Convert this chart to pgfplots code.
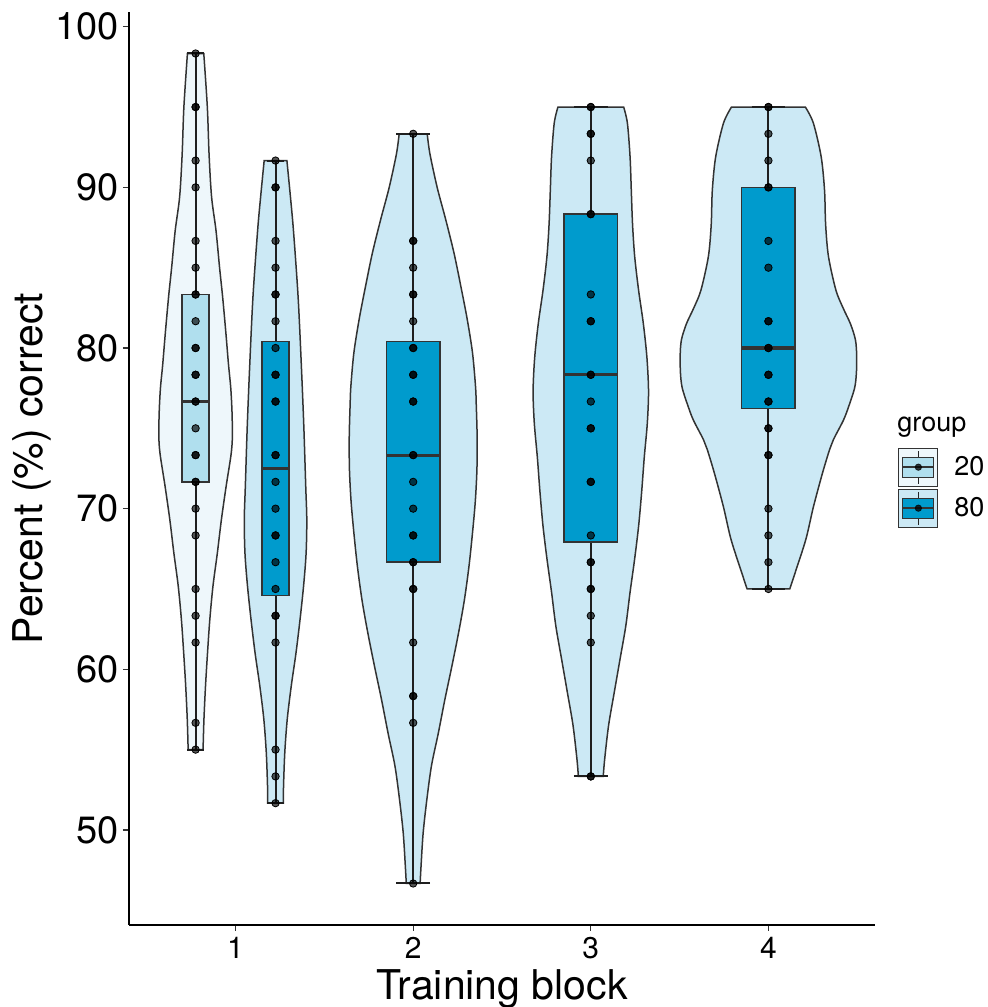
\documentclass[border=0pt]{standalone}
\usepackage{fontspec}
\setmainfont{TeX Gyre Heros}
\usepackage{pgfplots}
\pgfplotsset{compat=1.18}
\usepackage{pgfplotstable}
\usepgfplotslibrary{fillbetween,statistics}

\definecolor{vioA}{RGB}{238,247,251}
\definecolor{vioB}{RGB}{204,233,245}
\definecolor{boxA}{RGB}{176,223,238}
\definecolor{boxB}{RGB}{0,155,205}
\definecolor{edgegray}{RGB}{51,51,51}

% violin outlines: half-width w (in x units) at each y
\pgfplotstableread{
y w
55.00 0.042
56.90 0.047
59.00 0.056
61.00 0.067
63.10 0.080
65.20 0.098
67.20 0.122
69.30 0.145
71.40 0.172
73.40 0.200
74.50 0.207
76.00 0.205
77.50 0.198
79.00 0.185
81.00 0.170
83.20 0.152
85.00 0.135
87.30 0.115
89.40 0.090
92.00 0.076
95.00 0.066
98.33 0.046
}\vioOneA

\pgfplotstableread{
y w
51.67 0.044
52.70 0.045
54.80 0.052
56.90 0.066
59.00 0.089
61.00 0.115
63.10 0.138
65.20 0.158
67.20 0.172
69.30 0.176
71.40 0.170
75.20 0.159
79.00 0.145
83.20 0.127
87.30 0.101
89.40 0.084
91.67 0.064
}\vioOneB

\pgfplotstableread{
y w
46.67 0.039
47.70 0.044
49.80 0.056
51.90 0.077
54.00 0.103
56.00 0.141
58.10 0.178
60.20 0.218
62.30 0.256
64.30 0.288
66.40 0.314
68.50 0.334
70.50 0.350
72.50 0.359
74.50 0.360
76.50 0.355
77.60 0.351
79.70 0.334
81.80 0.304
83.80 0.269
85.90 0.230
88.00 0.183
90.00 0.135
92.10 0.094
93.33 0.079
}\vioTwo

\pgfplotstableread{
y w
53.33 0.070
54.40 0.078
56.50 0.100
58.50 0.131
60.60 0.164
62.70 0.197
64.80 0.221
66.80 0.246
68.90 0.269
71.00 0.286
73.20 0.301
75.30 0.318
77.30 0.325
79.40 0.316
81.50 0.296
83.60 0.269
85.70 0.247
87.70 0.235
89.80 0.228
91.90 0.221
94.00 0.206
95.00 0.185
}\vioThree

\pgfplotstableread{
y w
65.00 0.120
66.00 0.150
68.10 0.211
70.10 0.253
72.20 0.304
73.70 0.345
74.30 0.366
75.50 0.422
76.30 0.450
77.50 0.485
78.40 0.495
79.50 0.497
80.50 0.490
81.50 0.462
82.50 0.420
83.60 0.380
85.70 0.338
87.70 0.322
89.80 0.316
91.90 0.297
94.00 0.253
95.00 0.208
}\vioFour

% individual scores (percent correct)
\pgfplotstableread{
y
98.333
95
95
91.667
90
86.667
85
83.333
83.333
81.667
80
80
78.333
78.333
76.667
76.667
75
73.333
73.333
71.667
71.667
70
68.333
65
63.333
61.667
56.667
55
}\ptsOneA

\pgfplotstableread{
y
91.667
90
90
86.667
85
83.333
83.333
81.667
80
78.333
78.333
76.667
76.667
73.333
73.333
71.667
70
68.333
68.333
66.667
65
63.333
63.333
61.667
55
53.333
51.667
}\ptsOneB

\pgfplotstableread{
y
93.333
86.667
86.667
85
83.333
83.333
81.667
80
80
78.333
78.333
76.667
76.667
73.333
73.333
71.667
70
68.333
68.333
66.667
66.667
65
65
61.667
58.333
58.333
56.667
46.667
}\ptsTwo

\pgfplotstableread{
y
95
95
93.333
93.333
91.667
88.333
88.333
83.333
81.667
81.667
78.333
78.333
76.667
75
75
71.667
71.667
68.333
66.667
66.667
65
65
63.333
61.667
53.333
53.333
}\ptsThree

\pgfplotstableread{
y
95
95
93.333
91.667
90
90
86.667
85
81.667
81.667
80
80
78.333
78.333
76.667
76.667
75
75
73.333
73.333
70
68.333
66.667
65
}\ptsFour

\pgfplotsset{
  vside/.style={draw=none, smooth, tension=0.5, forget plot},
  vfill/.style={fill=#1, draw=edgegray, line width=0.75pt, forget plot},
  pts/.style={only marks, mark=*, mark size=1.85pt, forget plot,
    mark options={draw=none, fill=black, fill opacity=0.66}},
  bx/.style={fill=#1, draw=edgegray, line width=0.7pt, forget plot,
    boxplot/draw direction=y,
    boxplot/every whisker/.style={draw=black!88, line width=1pt},
    boxplot/every median/.style={draw=edgegray, line width=1.6pt}},
}

\begin{document}
\begin{tikzpicture}
\begin{axis}[
  set layers,
  at={(0,0)}, anchor=south west,
  scale only axis, width=373pt, height=456.5pt,
  xmin=0.4, xmax=4.6, ymin=44.083, ymax=100.917,
  clip=false,
  axis x line*=bottom, axis y line*=left,
  axis line style={draw=black, line width=0.6pt},
  xtick={1,2,3,4}, ytick={50,60,70,80,90,100},
  tick align=outside, major tick length=3pt,
  tick style={draw=edgegray, line width=0.6pt},
  minor tick num=0,
  /pgf/number format/assume math mode=true,
  yticklabel style={font=\fontsize{19}{19}\selectfont, inner sep=0pt, anchor=east, xshift=-2pt},
  xticklabel style={font=\fontsize{15}{15}\selectfont, inner sep=0pt, anchor=north, yshift=-3pt},
  xlabel={Training block}, ylabel={Percent (\%) correct},
  xlabel style={font=\fontsize{20.5}{20.5}\selectfont, at={(axis description cs:0.5,-0.0815)}, anchor=base},
  ylabel style={font=\fontsize{20.5}{20.5}\selectfont, at={(axis description cs:-0.1158,0.5)}, anchor=base},
  legend style={at={(axis description cs:1.0308,0.479)}, anchor=west,
    draw=none, fill=none, inner sep=0pt, row sep=1pt,
    font=\fontsize{13.5}{13.5}\selectfont,
    nodes={inner sep=1pt}, column sep=7pt},
  legend cell align=left,
]

% legend keys
\addlegendimage{legend image code/.code={
  \draw[draw=edgegray, line width=0.5pt, fill=vioA] (0pt,-9.5pt) rectangle (19.5pt,9.5pt);
  \draw[draw=black!85, line width=0.6pt] (9.75pt,-8.2pt) -- (9.75pt,8.2pt);
  \draw[draw=edgegray, line width=0.6pt, fill=boxA] (2pt,-5pt) rectangle (17.5pt,5pt);
  \draw[draw=edgegray, line width=0.9pt] (2pt,0pt) -- (17.5pt,0pt);
  \fill[fill=black, opacity=0.75] (9.75pt,0pt) circle (1.6pt);
}}
\addlegendentry{20}
\addlegendimage{legend image code/.code={
  \draw[draw=edgegray, line width=0.5pt, fill=vioB] (0pt,-9.5pt) rectangle (19.5pt,9.5pt);
  \draw[draw=black!85, line width=0.6pt] (9.75pt,-8.2pt) -- (9.75pt,8.2pt);
  \draw[draw=edgegray, line width=0.6pt, fill=boxB] (2pt,-5pt) rectangle (17.5pt,5pt);
  \draw[draw=edgegray, line width=0.9pt] (2pt,0pt) -- (17.5pt,0pt);
  \fill[fill=black, opacity=0.75] (9.75pt,0pt) circle (1.6pt);
}}
\addlegendentry{80}

% violins
\addplot[vside, name path=r1a] table[x expr=0.775+\thisrow{w}, y=y]{\vioOneA};
\addplot[vside, name path=l1a] table[x expr=0.775-\thisrow{w}, y=y]{\vioOneA};
\addplot[vfill=vioA] fill between[of=r1a and l1a, reverse=true];

\addplot[vside, name path=r1b] table[x expr=1.225+\thisrow{w}, y=y]{\vioOneB};
\addplot[vside, name path=l1b] table[x expr=1.225-\thisrow{w}, y=y]{\vioOneB};
\addplot[vfill=vioB] fill between[of=r1b and l1b, reverse=true];

\addplot[vside, name path=r2] table[x expr=2+\thisrow{w}, y=y]{\vioTwo};
\addplot[vside, name path=l2] table[x expr=2-\thisrow{w}, y=y]{\vioTwo};
\addplot[vfill=vioB] fill between[of=r2 and l2, reverse=true];

\addplot[vside, name path=r3] table[x expr=3+\thisrow{w}, y=y]{\vioThree};
\addplot[vside, name path=l3] table[x expr=3-\thisrow{w}, y=y]{\vioThree};
\addplot[vfill=vioB] fill between[of=r3 and l3, reverse=true];

\addplot[vside, name path=r4] table[x expr=4+\thisrow{w}, y=y]{\vioFour};
\addplot[vside, name path=l4] table[x expr=4-\thisrow{w}, y=y]{\vioFour};
\addplot[vfill=vioB] fill between[of=r4 and l4, reverse=true];

% boxes
\addplot[bx=boxA, boxplot prepared={draw position=0.775, lower whisker=55, lower quartile=71.667,
  median=76.667, upper quartile=83.333, upper whisker=98.333, box extend=0.152, whisker extend=0.096}] coordinates {};
\addplot[bx=boxB, boxplot prepared={draw position=1.225, lower whisker=51.667, lower quartile=64.6,
  median=72.5, upper quartile=80.42, upper whisker=91.667, box extend=0.152, whisker extend=0.096}] coordinates {};
\addplot[bx=boxB, boxplot prepared={draw position=2, lower whisker=46.667, lower quartile=66.667,
  median=73.333, upper quartile=80.42, upper whisker=93.333, box extend=0.3, whisker extend=0.19}] coordinates {};
\addplot[bx=boxB, boxplot prepared={draw position=3, lower whisker=53.333, lower quartile=67.92,
  median=78.333, upper quartile=88.333, upper whisker=95, box extend=0.3, whisker extend=0.19}] coordinates {};
\addplot[bx=boxB, boxplot prepared={draw position=4, lower whisker=65, lower quartile=76.25,
  median=80, upper quartile=90, upper whisker=95, box extend=0.3, whisker extend=0.19}] coordinates {};

% points
\addplot[pts] table[x expr=0.775, y=y]{\ptsOneA};
\addplot[pts] table[x expr=1.225, y=y]{\ptsOneB};
\addplot[pts] table[x expr=2, y=y]{\ptsTwo};
\addplot[pts] table[x expr=3, y=y]{\ptsThree};
\addplot[pts] table[x expr=4, y=y]{\ptsFour};

\node[anchor=base west, inner sep=0pt, font=\fontsize{13.5}{13.5}\selectfont]
  at (axis description cs:1.0295,0.541) {group};
\end{axis}
\pgfresetboundingbox
\path[use as bounding box] (-64.5pt,-41pt) rectangle (429.5pt,462.5pt);
\end{tikzpicture}
\end{document}
